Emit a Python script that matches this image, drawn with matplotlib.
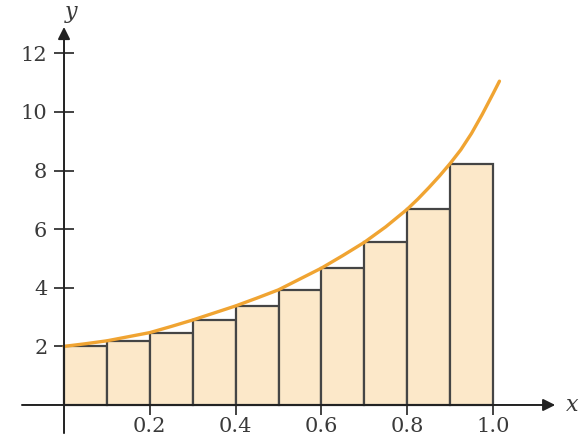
import matplotlib.pyplot as plt

# Left-endpoint rectangles on [0, 1] with 10 subintervals
bar_left = [0.0, 0.1, 0.2, 0.3, 0.4, 0.5, 0.6, 0.7, 0.8, 0.9]
bar_height = [2.0, 2.19, 2.47, 2.9, 3.38, 3.93, 4.67, 5.55, 6.68, 8.24]
bar_width = 0.1

# Sampled points of the curve y = f(x)
curve_x = [0.0, 0.05, 0.1, 0.15, 0.2, 0.25, 0.3, 0.35, 0.4, 0.45, 0.5,
           0.55, 0.6, 0.65, 0.7, 0.75, 0.8, 0.825, 0.85, 0.875, 0.9, 0.925,
           0.95, 0.975, 1.0, 1.015]
curve_y = [2.0, 2.09, 2.19, 2.33, 2.47, 2.68, 2.9, 3.14, 3.38, 3.65, 3.93,
           4.3, 4.67, 5.1, 5.55, 6.08, 6.68, 7.03, 7.41, 7.81, 8.24, 8.71,
           9.27, 9.92, 10.62, 11.05]

xticks = [0.2, 0.4, 0.6, 0.8, 1.0]
xtick_labels = ["0.2", "0.4", "0.6", "0.8", "1.0"]
yticks = [2, 4, 6, 8, 10, 12]
ytick_labels = ["2", "4", "6", "8", "10", "12"]

fig = plt.figure(figsize=(5.87, 4.41), dpi=100)
ax = fig.add_axes([0, 0, 1, 1])
ax.set_xlim(-0.1492, 1.2191)
ax.set_ylim(-1.229, 13.82)

fill_color = "#fce8c9"
edge_color = "#454545"
curve_color = "#f0a432"
axis_color = "#222222"
text_color = "#3a3a3a"

ax.bar(bar_left, bar_height, width=bar_width, align="edge",
       facecolor=fill_color, edgecolor=edge_color, linewidth=1.6, zorder=2)
ax.plot(curve_x, curve_y, color=curve_color, linewidth=2.4,
        solid_capstyle="round", solid_joinstyle="round", zorder=3)

# Axes drawn as arrows through the origin
for side in ["top", "right"]:
    ax.spines[side].set_visible(False)
ax.spines["left"].set_position(("data", 0))
ax.spines["bottom"].set_position(("data", 0))
ax.spines["left"].set_color("none")
ax.spines["bottom"].set_color("none")

arrow_kw = dict(arrowstyle="-|>", color=axis_color, lw=1.4,
                mutation_scale=18, shrinkA=0, shrinkB=0)
ax.annotate("", xy=(1.145, 0), xytext=(-0.098, 0),
            arrowprops=arrow_kw, zorder=4)
ax.annotate("", xy=(0, 12.9), xytext=(0, -0.96),
            arrowprops=arrow_kw, zorder=4)

ax.set_xticks(xticks)
ax.set_xticklabels(xtick_labels)
ax.set_yticks(yticks)
ax.set_yticklabels(ytick_labels)
ax.tick_params(axis="both", direction="inout", length=14, width=1.2,
               color=axis_color, labelsize=15, labelcolor=text_color)
ax.tick_params(axis="x", pad=2)
ax.tick_params(axis="y", pad=5)
for lab in ax.get_xticklabels() + ax.get_yticklabels():
    lab.set_family("DejaVu Serif")

ax.text(1.185, 0, "x", fontsize=16, fontstyle="italic", family="DejaVu Serif",
        color=text_color, ha="center", va="center")
ax.text(0.017, 13.4, "y", fontsize=16, fontstyle="italic", family="DejaVu Serif",
        color=text_color, ha="center", va="center")

fig.savefig("out.png", dpi=100)
